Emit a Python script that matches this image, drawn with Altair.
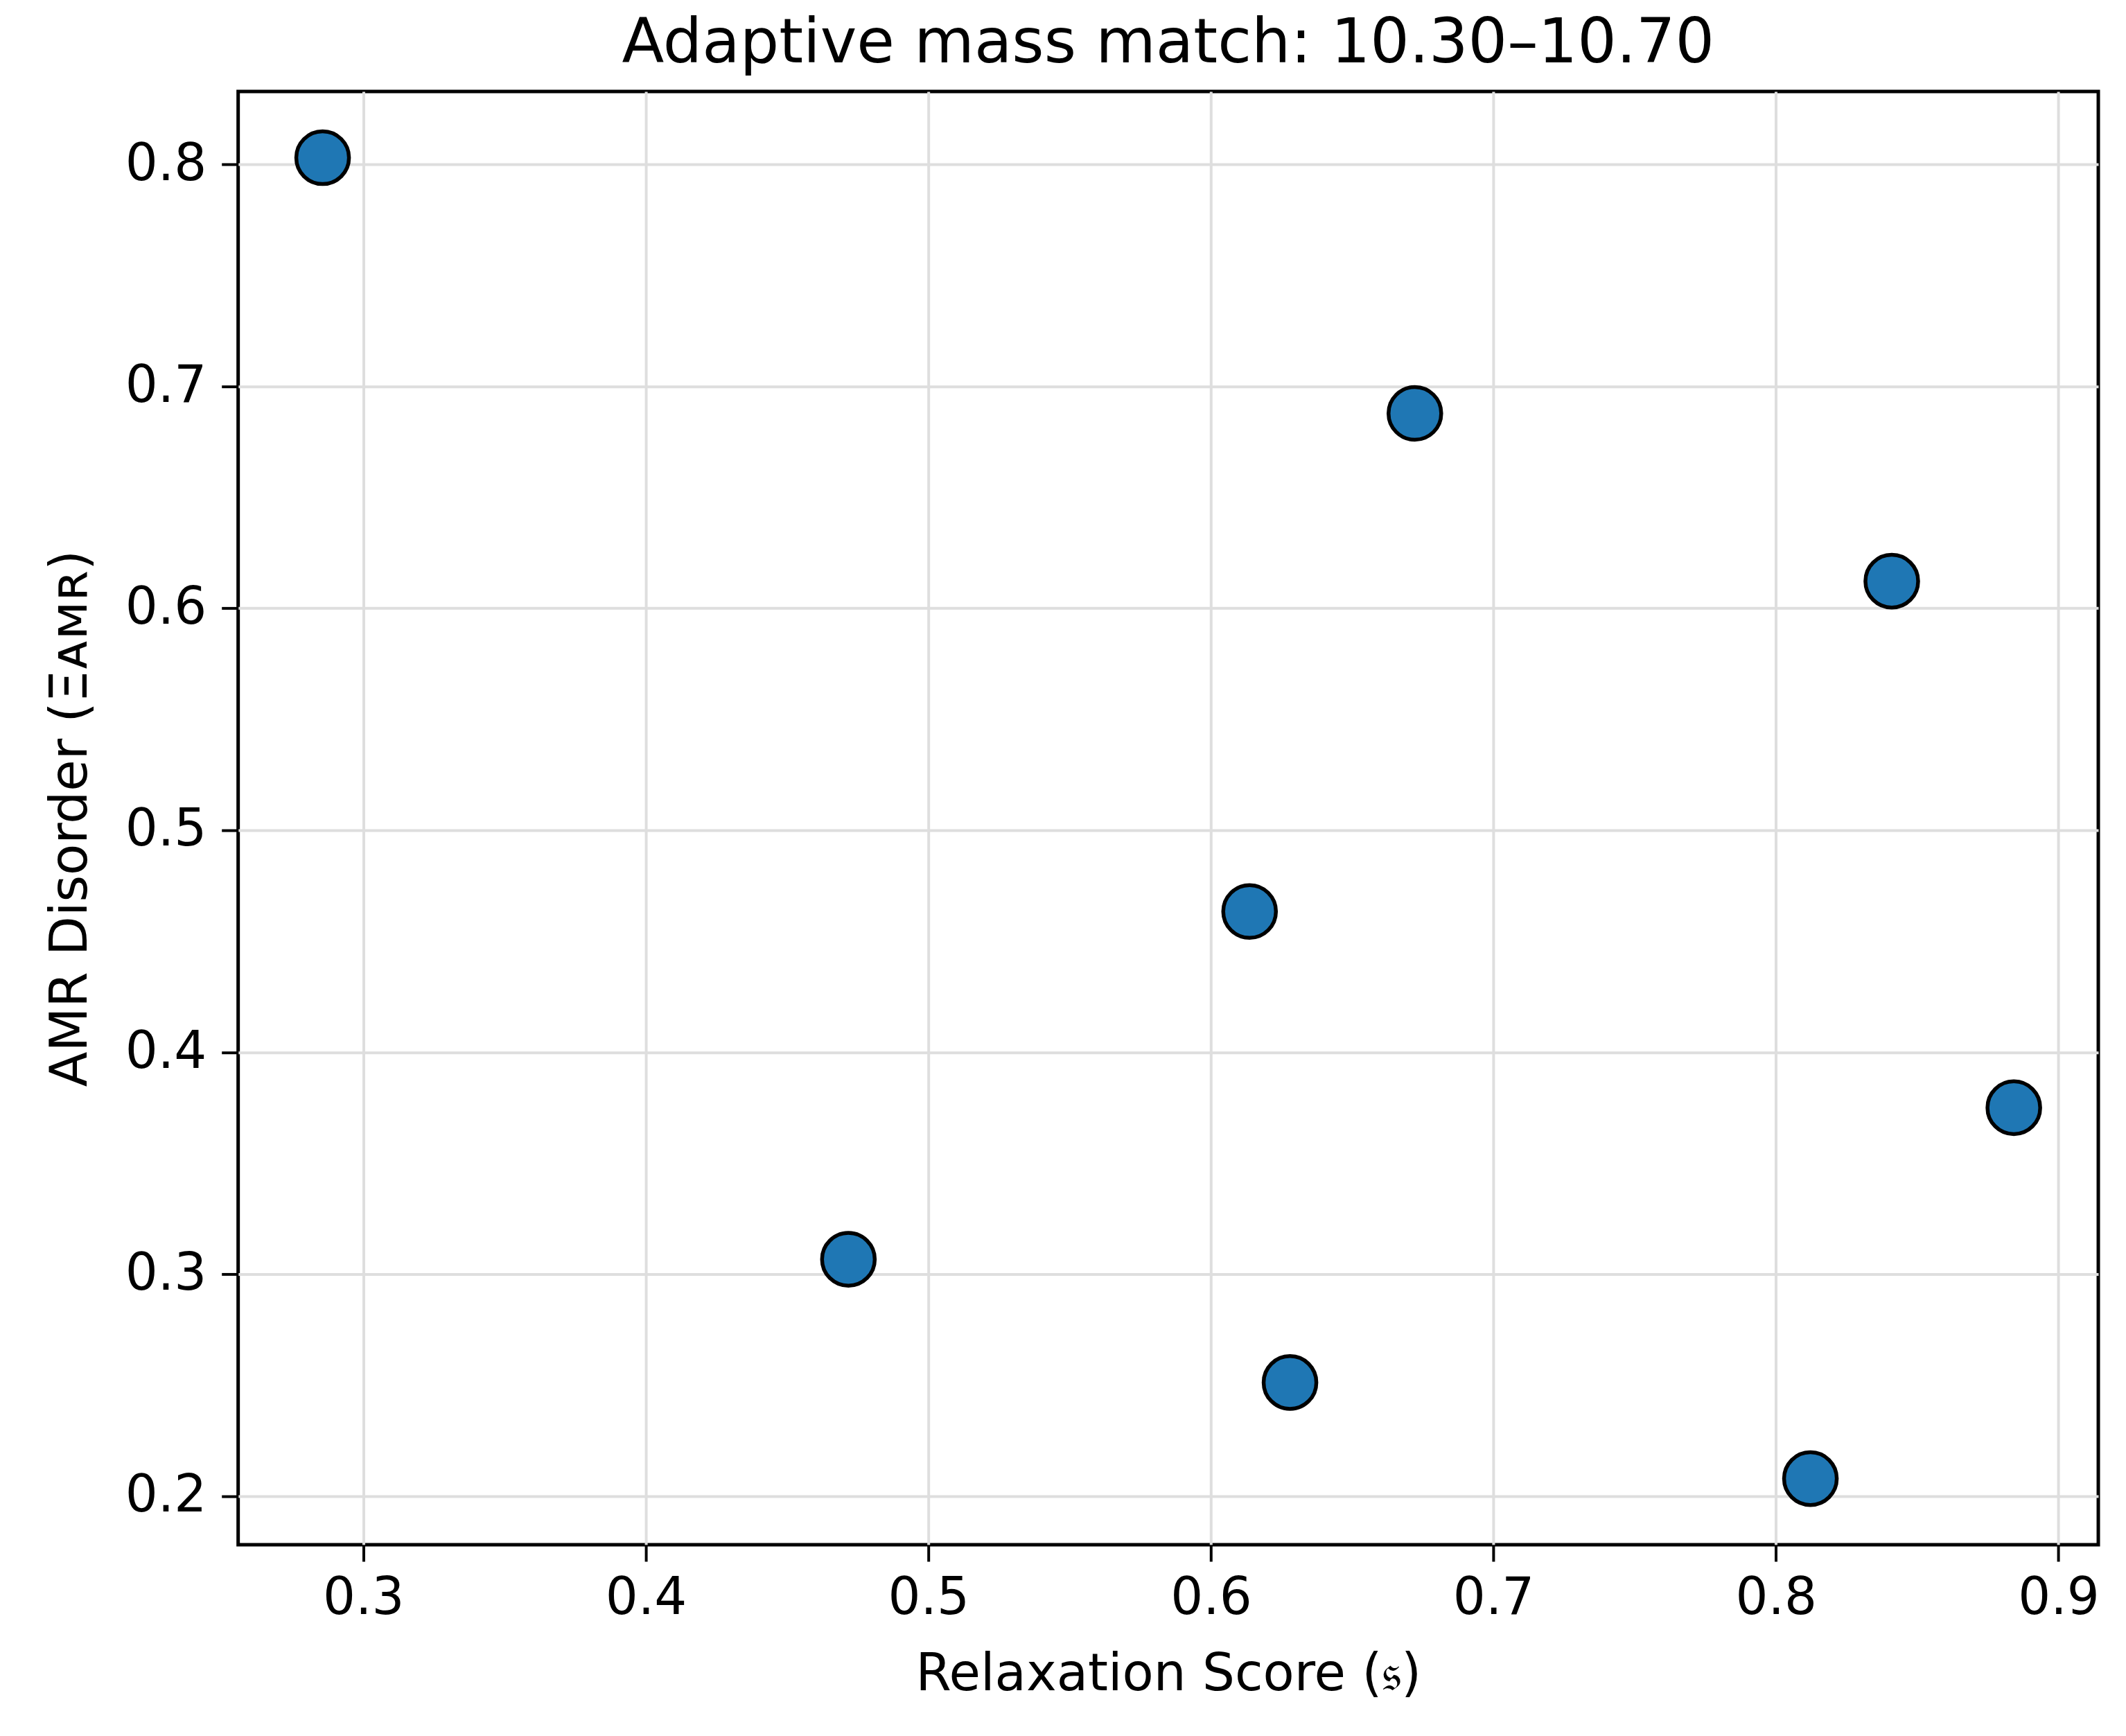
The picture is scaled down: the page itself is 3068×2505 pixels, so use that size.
import altair as alt
import pandas as pd

relaxation = [0.2856, 0.6722, 0.8410, 0.6137, 0.8842, 0.4717, 0.6280, 0.8122]
disorder = [0.8030, 0.6878, 0.6122, 0.4634, 0.3750, 0.3067, 0.2512, 0.2079]
x_ticks = [0.3, 0.4, 0.5, 0.6, 0.7, 0.8, 0.9]
y_ticks = [0.2, 0.3, 0.4, 0.5, 0.6, 0.7, 0.8]

df = pd.DataFrame({"relaxation": relaxation, "disorder": disorder})

FONT = "DejaVu Sans"

chart = (
    alt.Chart(df)
    .mark_point(
        shape="circle", filled=True, size=5800, fill="#1f77b4",
        stroke="black", strokeWidth=5.5, opacity=1,
    )
    .encode(
        x=alt.X(
            "relaxation:Q",
            scale=alt.Scale(domain=[0.2557, 0.9141], nice=False, zero=False),
            axis=alt.Axis(
                values=x_ticks, format=".1f", title="Relaxation Score (𝔰)",
                titlePadding=37,
            ),
        ),
        y=alt.Y(
            "disorder:Q",
            scale=alt.Scale(domain=[0.1781, 0.8328], nice=False, zero=False),
            axis=alt.Axis(
                values=y_ticks, format=".1f", title="AMR Disorder (Ξᴀᴍʀ)",
                titlePadding=40,
            ),
        ),
    )
    .properties(
        width=2687,
        height=2099,
        title=alt.TitleParams(
            "Adaptive mass match: 10.30–10.70",
            fontSize=89, font=FONT, fontWeight="normal", color="black",
            offset=23, anchor="middle",
        ),
        padding={"left": 57, "top": 10, "right": 30, "bottom": 30},
    )
    .configure_view(stroke="black", strokeWidth=5)
    .configure_axis(
        labelFont=FONT, titleFont=FONT, labelFontSize=74, titleFontSize=74,
        labelColor="black", titleColor="black", titleFontWeight="normal",
        grid=True, gridColor="#dedede", gridWidth=4,
        domain=False, ticks=True, tickColor="black", tickWidth=4, tickSize=24,
        labelPadding=22,
    )
    .configure_axisX(labelPadding=18)
)

chart.save("out.html", embed_options={"renderer": "svg", "actions": False})
